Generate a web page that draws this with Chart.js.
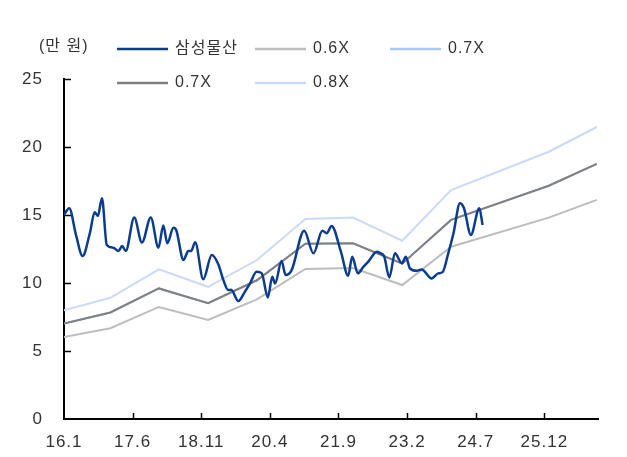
<!DOCTYPE html>
<html>
<head>
<meta charset="utf-8">
<script src="https://cdn.jsdelivr.net/npm/chart.js@4/dist/chart.umd.min.js"></script>
<style>
  body { margin: 0; background: #fff; }
  #wrap { width: 627px; height: 457px; }
</style>
</head>
<body>
<div id="wrap"><canvas id="chart" width="627" height="457"></canvas></div>
<script>
// months counted from 2016.1
const unitLabel = "(만 원)";
const tickMonths = [0, 17, 34, 51, 68, 85, 102, 119];
const tickLabels = ["16.1", "17.6", "18.11", "20.4", "21.9", "23.2", "24.7", "25.12"];

const priceMonths = [0, 1.3, 3.0, 4.6, 6.4, 7.6, 8.4, 9.4, 10.6, 12.2, 13.5, 14.4, 15.3, 17.4, 19.3,
  21.5, 23.4, 24.6, 25.6, 27.1, 27.8, 29.6, 30.8, 31.5, 32.5, 34.5, 36.6, 38.2, 39.5, 40.7,
  41.4, 43.2, 44.8, 46.1, 47.7, 49.0, 50.5, 51.6, 52.3, 53.9, 54.9, 56.4, 59.5, 61.8, 64.0,
  65.1, 66.3, 68.6, 70.4, 71.4, 72.8, 74.2, 75.4, 77.5, 78.3, 79.3, 80.6, 82.0, 83.7, 84.7,
  85.7, 87.4, 88.6, 91.1, 92.7, 93.8, 95.2, 96.5, 98.1, 99.1, 100.8, 102.9, 103.7];
const priceValues = [15.0, 15.5, 13.5, 11.98, 13.66, 15.2, 14.93, 16.24, 12.8, 12.6, 12.35, 12.72, 12.35, 14.81, 12.97,
  14.81, 12.6, 14.22, 12.92, 14.07, 13.9, 11.69, 12.35, 12.35, 12.99, 10.27, 12.06, 11.4, 10.21, 9.48,
  9.5, 8.67, 9.35, 9.97, 10.83, 10.71, 8.94, 10.46, 9.97, 11.62, 10.58, 10.95, 13.85, 12.18, 13.85,
  13.66, 14.2, 12.3, 10.53, 11.93, 10.71, 11.2, 11.57, 12.3, 12.2, 11.98, 10.41, 12.18, 11.45, 11.93,
  11.08, 10.9, 11.0, 10.34, 10.71, 10.8, 12.18, 13.66, 15.87, 15.5, 13.53, 15.5, 14.27];

const bandMonths = [0, 11.5, 23.5, 35.7, 47.8, 59.8, 71.6, 83.8, 95.9, 120.1, 132];
const band06 = [6.03, 6.67, 8.24, 7.29, 8.79, 11.03, 11.10, 9.85, 12.67, 14.81, 16.11];
const band07 = [7.02, 7.83, 9.60, 8.52, 10.2, 12.89, 12.92, 11.42, 14.64, 17.15, 18.76];
const band08 = [8.0, 8.91, 11.0, 9.72, 11.69, 14.71, 14.81, 13.11, 16.83, 19.65, 21.47];

const toPoints = (xs, ys) => xs.map((x, i) => ({ x: x, y: ys[i] }));

const FONT = "'Liberation Sans', 'Noto Sans CJK KR', sans-serif";

// the original text is a little spaced out
const spacing = {
  id: "spacing",
  beforeDraw(chart) {
    chart.ctx.letterSpacing = "1px";
  },
};

const axisTicks = {
  id: "axisTicks",
  beforeDatasetsDraw(chart) {
    const { ctx, scales, chartArea } = chart;
    ctx.save();
    ctx.strokeStyle = "#000";
    ctx.lineWidth = 1.5;
    ctx.beginPath();
    tickMonths.forEach((m) => {
      if (m === 0) return;
      const px = Math.round(scales.x.getPixelForValue(m)) + 0.5;
      ctx.moveTo(px, chartArea.bottom);
      ctx.lineTo(px, chartArea.bottom - 6);
    });
    scales.y.ticks.forEach((t) => {
      if (t.value === 0) return;
      const py = Math.round(scales.y.getPixelForValue(t.value)) + 0.5;
      ctx.moveTo(chartArea.left, py);
      ctx.lineTo(chartArea.left + 7, py);
    });
    ctx.stroke();
    ctx.restore();
  },
};

// legend in a grid, like the original
const gridLegend = {
  id: "gridLegend",
  afterDraw(chart) {
    const ctx = chart.ctx;
    const cols = [117, 255, 390];
    const rows = [49, 83];
    ctx.save();
    ctx.font = "16px " + FONT;
    ctx.textBaseline = "middle";
    ctx.fillStyle = "#333";
    ctx.textAlign = "left";
    ctx.fillText(unitLabel, 39, 47);
    chart.data.datasets.forEach((ds, i) => {
      const cx = cols[i % 3];
      const cy = rows[Math.floor(i / 3)];
      ctx.strokeStyle = ds.borderColor;
      ctx.lineWidth = 2.5;
      ctx.beginPath();
      ctx.moveTo(cx, cy);
      ctx.lineTo(cx + 51, cy);
      ctx.stroke();
      ctx.fillStyle = "#333";
      ctx.fillText(ds.label, cx + 58, cy);
    });
    ctx.restore();
  },
};

new Chart(document.getElementById("chart"), {
  type: "line",
  data: {
    datasets: [
      { label: "삼성물산", data: toPoints(priceMonths, priceValues), borderColor: "#0b3c8f", borderWidth: 2.5, cubicInterpolationMode: "monotone", order: 0 },
      { label: "0.6X", data: toPoints(bandMonths, band06), borderColor: "#bdbdbd", borderWidth: 2, tension: 0, order: 1 },
      { label: "0.7X", data: toPoints(bandMonths, band07), borderColor: "#a8c8f8", borderWidth: 2, tension: 0, order: 2 },
      { label: "0.7X", data: toPoints(bandMonths, band07), borderColor: "#808080", borderWidth: 2, tension: 0, order: 1 },
      { label: "0.8X", data: toPoints(bandMonths, band08), borderColor: "#cbdaf8", borderWidth: 2, tension: 0, order: 1 },
    ],
  },
  options: {
    responsive: false,
    animation: false,
    layout: { padding: { top: 79, right: 29, left: 0, bottom: 0 } },
    elements: { point: { radius: 0 } },
    plugins: { legend: { display: false }, tooltip: { enabled: false } },
    scales: {
      x: {
        type: "linear",
        min: 0,
        max: 132.3,
        grid: { display: false, drawTicks: false },
        border: { display: true, color: "#000", width: 2 },
        afterBuildTicks: (scale) => {
          scale.ticks = tickMonths.map((v) => ({ value: v }));
        },
        afterFit: (scale) => { scale.height = 38; },
        ticks: {
          padding: 13,
          maxRotation: 0,
          color: "#333",
          font: { family: FONT, size: 17 },
          callback: (v) => tickLabels[tickMonths.indexOf(v)],
        },
      },
      y: {
        min: 0,
        max: 25,
        grid: { display: false, drawTicks: false },
        border: { display: true, color: "#000", width: 2 },
        afterFit: (scale) => { scale.width = 64; },
        ticks: {
          stepSize: 5,
          padding: 21,
          color: "#333",
          font: { family: FONT, size: 17 },
        },
      },
    },
  },
  plugins: [spacing, axisTicks, gridLegend],
});
</script>
</body>
</html>
